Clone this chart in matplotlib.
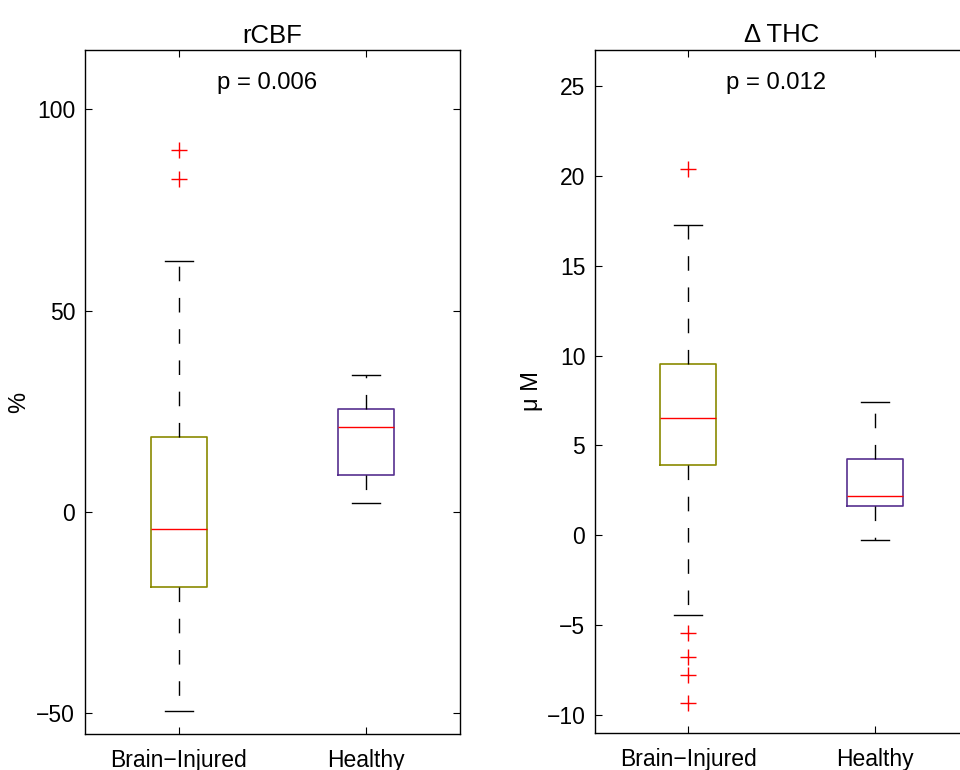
import matplotlib
matplotlib.use("Agg")
import matplotlib.pyplot as plt

plt.rcParams["font.family"] = ["Liberation Sans", "DejaVu Sans"]

GROUPS = ["Brain\u2212Injured", "Healthy"]

# rCBF (%) box statistics
RCBF_MED = [-4.2, 21.0]
RCBF_Q1 = [-18.6, 9.2]
RCBF_Q3 = [18.6, 25.6]
RCBF_WLO = [-49.4, 2.2]
RCBF_WHI = [62.4, 34.1]
RCBF_FLIERS = [[90.0, 82.8], []]

# delta THC (uM) box statistics
THC_MED = [6.5, 2.2]
THC_Q1 = [3.89, 1.63]
THC_Q3 = [9.52, 4.22]
THC_WLO = [-4.44, -0.24]
THC_WHI = [17.24, 7.4]
THC_FLIERS = [[20.4, -5.46, -6.8, -7.8, -9.35], []]

BOX_COLOURS = ["#8a8a00", "#56308f"]


def make_stats(med, q1, q3, wlo, whi, fliers):
    return [dict(med=med[i], q1=q1[i], q3=q3[i], whislo=wlo[i], whishi=whi[i],
                 fliers=fliers[i], label=GROUPS[i]) for i in range(len(GROUPS))]


def draw(ax, stats, title, ylabel, ylim, yticks, ptext, py, lab_x, lab_y):
    res = ax.bxp(stats, positions=[1, 2], widths=0.3, showfliers=True,
                 medianprops=dict(color="#ff0000", linewidth=1.0),
                 whiskerprops=dict(color="black", linewidth=1.0, linestyle=(0, (10.5, 12))),
                 capprops=dict(color="black", linewidth=1.0),
                 flierprops=dict(marker="+", markeredgecolor="#ff0000",
                                 markersize=11, markeredgewidth=1.0, linestyle="none"))
    for box, col in zip(res["boxes"], BOX_COLOURS):
        box.set_color(col)
        box.set_linewidth(1.2)
    ax.set_xlim(0.5, 2.5)
    ax.set_ylim(*ylim)
    ax.set_yticks(yticks)
    ax.set_xticks([1, 2])
    ax.set_xticklabels(GROUPS)
    ax.tick_params(direction="in", top=True, right=True, length=5, width=0.8,
                   labelsize=16.5)
    ax.tick_params(axis="y", pad=7)
    ax.tick_params(axis="x", pad=11)
    for s in ax.spines.values():
        s.set_linewidth(1.0)
    ax.set_title(title, fontsize=18.5, pad=5.5)
    ax.set_ylabel(ylabel, fontsize=17)
    ax.yaxis.set_label_coords(lab_x, lab_y)
    ax.text(1.47, py, ptext, ha="center", va="center", fontsize=17.2)


fig = plt.figure(figsize=(9.6, 7.7), dpi=100)
ax1 = fig.add_axes([0.0885, 0.0468, 0.3906, 0.888])
ax2 = fig.add_axes([0.6198, 0.0481, 0.3885, 0.887])

draw(ax1, make_stats(RCBF_MED, RCBF_Q1, RCBF_Q3, RCBF_WLO, RCBF_WHI, RCBF_FLIERS),
     "rCBF", "%", (-55.2, 114.7), [-50, 0, 50, 100], "p = 0.006", 106.5, -0.145, 0.485)
draw(ax2, make_stats(THC_MED, THC_Q1, THC_Q3, THC_WLO, THC_WHI, THC_FLIERS),
     "\u0394 THC", "\u03bc M", (-11, 27), [-10, -5, 0, 5, 10, 15, 20, 25], "p = 0.012", 25.15,
     -0.14, 0.5)

fig.savefig("out.png", dpi=100)
